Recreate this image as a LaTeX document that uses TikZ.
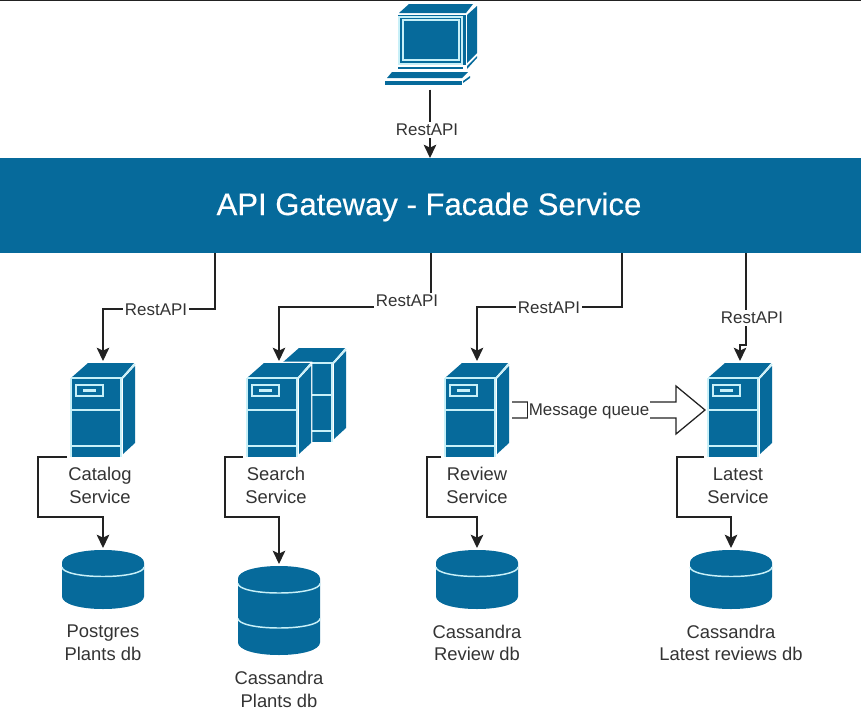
\documentclass[tikz,border=0pt]{standalone}
\usepackage{fontspec}
\setmainfont{Liberation Sans}
\newfontfamily\gatewayfont[FakeBold=0.35]{Liberation Sans}
\usetikzlibrary{arrows.meta}
\definecolor{brandblue}{HTML}{066A9B}
\definecolor{edgecyan}{HTML}{C8F0F8}
\definecolor{inktext}{HTML}{333333}
\definecolor{inkline}{HTML}{222222}
\newcommand{\dbshape}[1]{%
    \fill[brandblue] (-41,-#1+12.5) .. controls (-41,-#1+5) and (-23,-#1) .. (0,-#1) .. controls (23,-#1) and (41,-#1+5) .. (41,-#1+12.5)
        -- (41,#1-12.5) .. controls (41,#1-5) and (23,#1) .. (0,#1) .. controls (-23,#1) and (-41,#1-5) .. (-41,#1-12.5) -- cycle;}
\newcommand{\dbring}[1]{%
    \draw[edgeline] (-41,#1-9.5) .. controls (-41,#1-4) and (-23,#1) .. (0,#1) .. controls (23,#1) and (41,#1-4) .. (41,#1-9.5);}
\tikzset{
    edgeline/.style={draw=edgecyan, line width=1.1pt},
    link/.style={draw=inkline, line width=0.95pt, shorten >=1.5pt, -{Stealth[length=10pt,width=9.5pt,inset=2.2pt]}},
    plainline/.style={draw=inkline, line width=0.95pt},
    apilabel/.style={fill=white, inner sep=1.5pt, text=inktext, font=\fontsize{12.7pt}{15pt}\selectfont},
    iconlabel/.style={align=center, inner sep=0pt, text=inktext, font=\fontsize{13.8pt}{17pt}\selectfont},
    srvbox/.style={minimum width=48pt, minimum height=70.5pt, inner sep=0pt, outer sep=0pt},
    dbbox/.style={minimum width=61.5pt, inner sep=0pt, outer sep=0pt},
    servercase/.pic={
        \draw[white, line width=2.2pt, fill=white] (-32,-32) -- (-15,-47) -- (32,-47) -- (32,33) -- (18,47) -- (-32,47) -- cycle;
        \fill[brandblue] (-15,-47) -- (31,-47) -- (18,-32) -- (-32,-32) -- cycle;
        \fill[brandblue] (20,-31) -- (32,-44) -- (32,33) -- (20,44) -- cycle;
        \fill[brandblue] (-32,-32) rectangle (18,47);
        \draw[edgeline] (-32,-32) -- (18,-32) -- (18,47) (-32,-32) -- (-32,47);
        \draw[edgeline] (19,-32) -- (32,-46);
        \draw[edgeline] (-32,0) -- (18,0) (-32,36) -- (18,36);
    },
    server/.pic={
        \pic {servercase};
        \draw[edgeline] (-27,-25) rectangle (0,-14);
        \fill[edgecyan] (-20,-21) rectangle (-7,-18);
    },
    client/.pic={
        \fill[brandblue] (-31,-32) -- (-21,-41) -- (43,-41) -- (36,-32) -- cycle;
        \fill[brandblue] (37,-30) -- (47,-39) -- (47,8) -- (37,18) -- cycle;
        \fill[brandblue] (37,21) -- (47,11) -- (47,13) -- (37,24) -- cycle;
        \fill[brandblue] (-32,-30) rectangle (36,20);
        \draw[edgeline] (-31,-28) rectangle (32,19);
        \draw[edgeline] (-27,-25) rectangle (29,15);
        \fill[brandblue] (-32,22) rectangle (33,24);
        \fill[brandblue] (-38,27) -- (38,27) -- (32,33) -- (-43,33) -- cycle;
        \fill[brandblue] (-45,36) rectangle (32,40);
        \fill[brandblue] (33,36) -- (40,31) -- (40,33) -- (33,38) -- cycle;
    },
}
\begin{document}
\begin{tikzpicture}[x=0.75pt, y=-0.75pt]
    \useasboundingbox (0,0) rectangle (861,711);
    \draw[inkline, line width=0.8pt] (0,0.4) -- (861,0.4);
    % client and gateway
    \node[minimum width=69pt, minimum height=63pt, inner sep=0pt, outer sep=0pt] (client) at (430,45) {};
    \pic at (430,45) {client};
    \node[fill=brandblue, minimum width=645.75pt, minimum height=71.25pt, inner sep=0pt, outer sep=0pt] (gateway) at (430.5,205.5) {};
    \node[inner sep=0pt, text=white, font=\gatewayfont\fontsize{23.3pt}{28pt}\selectfont] (gateway-label) at (429,207) {API Gateway - Facade Service};
    % second box behind search
    \pic at (314,395) {servercase};
    % services
    \foreach \srvName/\srvX/\txtX/\srvText in {catalog/103/100/Catalog, search/279/276/Search, review/477/477/Review, latest/740/738/Latest} {
        \node[srvbox] (\srvName) at (\srvX,410) {};
        \pic at (\srvX,410) {server};
        \node[iconlabel] (\srvName-label) at (\txtX,485.5) {\srvText\\Service};
    }
    % databases
    \foreach \dbName/\dbX/\dbText in {catalogDb/103/Postgres\\Plants db, reviewDb/477/Cassandra\\Review db, latestDb/731/Cassandra\\Latest reviews db} {
        \node[dbbox, minimum height=44.25pt] (\dbName) at (\dbX,579.5) {};
        \begin{scope}[shift={(\dbX,579.5)}]
            \dbshape{29.5}
            \dbring{-3}
        \end{scope}
        \node[iconlabel] (\dbName-label) at (\dbX,643) {\dbText};
    }
    \node[dbbox, minimum height=66.75pt] (searchDb) at (279,610.5) {};
    \begin{scope}[shift={(279,610.5)}]
        \dbshape{44.5}
        \dbring{-17.5}
        \dbring{17.5}
    \end{scope}
    \node[iconlabel] (searchDb-label) at (279,689.5) {Cassandra\\Plants db};
    % gateway drops
    \coordinate (gwCatalog) at (215,253);
    \coordinate (gwSearch) at (431,253);
    \coordinate (gwReview) at (622,253);
    \coordinate (gwLatest) at (746,253);
    \draw[link, shorten <=2pt, shorten >=0pt] (client.south) -- (client.south |- gateway.north);
    \draw[link] (gwCatalog) -- ++(0,56) -| (catalog.north);
    \draw[link] (gwSearch) -- ++(0,54) -| (search.north);
    \draw[link] (gwReview) -- ++(0,54) -| (review.north);
    \draw[link] (gwLatest) -- ++(0,92) -| (latest.north);
    % service to database
    \draw[link, shorten <=3pt] (catalog.south west) -- ++(-33,0) -- ++(0,60) -| (catalogDb.north);
    \draw[link, shorten <=3pt] (search.south west) -- ++(-22,0) -- ++(0,60) -| (searchDb.north);
    \draw[link, shorten <=3pt] (review.south west) -- ++(-18,0) -- ++(0,60) -| (reviewDb.north);
    \draw[link, shorten <=3pt] (latest.south west) -- ++(-31,0) -- ++(0,60) -| (latestDb.north);
    % message queue arrow
    \draw[plainline, fill=white] (512,402) -- (676,402) -- (676,386) -- (705,410) -- (676,434) -- (676,418) -- (512,418);
    \node[apilabel, inner sep=0pt, minimum width=92pt, minimum height=20pt] (queue) at (589,411) {Message queue};
    \draw[plainline, line width=0.5pt] (queue.west) ++(0,-9) -- ++(0,16);
    % rest labels
    \node[apilabel] (restClient) at (427,130) {RestAPI};
    \node[apilabel] (restCatalog) at (156,310) {RestAPI};
    \node[apilabel] (restSearch) at (407,301) {RestAPI};
    \node[apilabel] (restReview) at (549,308) {RestAPI};
    \node[apilabel] (restLatest) at (752,318) {RestAPI};
\end{tikzpicture}
\end{document}
